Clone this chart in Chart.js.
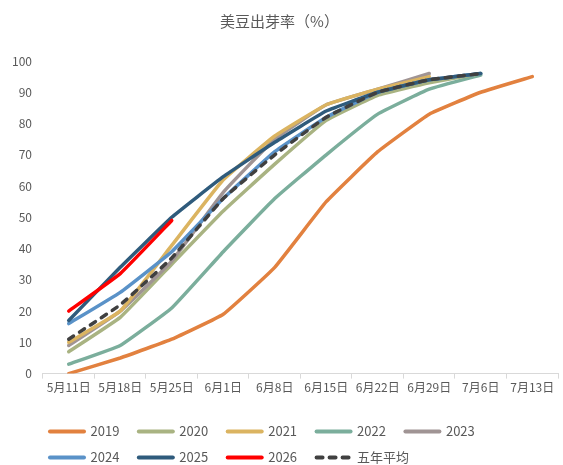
<!DOCTYPE html>
<html>
<head>
<meta charset="utf-8">
<script src="https://cdn.jsdelivr.net/npm/chart.js@4"></script>
<style>
    html, body { margin: 0; padding: 0; background: #fff; }
    #wrap { width: 563px; height: 465px; }
</style>
</head>
<body>
<div id="wrap"><canvas id="chart"></canvas></div>
<script>
const dates = ['5月11日', '5月18日', '5月25日', '6月1日', '6月8日', '6月15日', '6月22日', '6月29日', '7月6日', '7月13日'];
const yTicks = [0, 10, 20, 30, 40, 50, 60, 70, 80, 90, 100];

const y2019 = [0, 5, 11, 19, 34, 55, 71, 83, 90, 95];
const y2020 = [7, 18, 35, 52, 67, 81, 89, 93, 96, null];
const y2021 = [10, 20, 41, 62, 76, 86, 91, 95, null, null];
const y2022 = [3, 9, 21, 39, 56, 70, 83, 91, 95.5, null];
const y2023 = [9, 20, 36, 58, 75, 86, 91, 96, null, null];
const y2024 = [16, 26, 39, 56, 71, 82, 90, 94, 96, null];
const y2025 = [17, 34, 50, 63, 74, 84, 90, 94, 96, null];
const y2026 = [20, 32, 49, null, null, null, null, null, null, null];
const avg5 = [11, 22, 37, 56, 70, 82, 90, 94, 96, null];

const fontFamily = '"Noto Sans CJK SC", "Noto Sans", sans-serif';

window.addEventListener('load', () => {
    buildChart();
});

function line(label, data, color, order, dash) {
    return {
        label: label,
        data: data,
        borderColor: color,
        backgroundColor: color,
        borderWidth: 3.5,
        borderCapStyle: 'round',
        borderDash: dash || [],
        pointRadius: 0,
        pointHoverRadius: 0,
        tension: 0.1,
        spanGaps: false,
        order: order
    };
}

// nudge the legend to where the original sits
const legendShift = {
    id: 'legendShift',
    afterLayout(chart) {
        const lg = chart.legend;
        lg.left -= 6;
        lg.right -= 6;
        lg.top += 9;
        lg.bottom += 9;
    }
};

function buildChart() {
    const ctx = document.getElementById('chart').getContext('2d');

    new Chart(ctx, {
        type: 'line',
        data: {
            labels: dates,
            datasets: [
                line('2019', y2019, '#E2813F', 8),
                line('2020', y2020, '#A9B382', 6),
                line('2021', y2021, '#DBB461', 4),
                line('2022', y2022, '#7BAE9C', 7),
                line('2023', y2023, '#A09494', 5),
                line('2024', y2024, '#5A92C8', 3),
                line('2025', y2025, '#2F5B7C', 2),
                line('2026', y2026, '#FF0000', 1),
                line('五年平均', avg5, '#404040', 0, [6, 7])
            ]
        },
        plugins: [legendShift],
        options: {
            responsive: true,
            maintainAspectRatio: false,
            animation: false,
            layout: {
                padding: { left: 1, right: 5, top: 0, bottom: 0 }
            },
            plugins: {
                title: {
                    display: true,
                    text: '美豆出芽率（%）',
                    color: '#595959',
                    font: { family: fontFamily, size: 15, weight: 'normal' },
                    padding: { top: 12, bottom: 31 }
                },
                legend: {
                    position: 'bottom',
                    align: 'start',
                    fullSize: false,
                    labels: {
                        usePointStyle: true,
                        pointStyle: 'line',
                        pointStyleWidth: 34,
                        color: '#595959',
                        font: { family: fontFamily, size: 13 },
                        padding: 13,
                        sort: (a, b) => a.datasetIndex - b.datasetIndex,
                        generateLabels: chart => {
                            const items = Chart.defaults.plugins.legend.labels.generateLabels(chart);
                            items.forEach(it => {
                                const ds = chart.data.datasets[it.datasetIndex];
                                it.lineDash = ds.borderDash.length ? [6, 7] : [];
                                it.lineCap = 'round';
                                it.lineWidth = 4;
                                it.text = it.text + '\u2002';
                            });
                            return items;
                        }
                    }
                },
                tooltip: { enabled: false }
            },
            scales: {
                x: {
                    offset: true,
                    grid: {
                        offset: true,
                        drawOnChartArea: false,
                        drawTicks: true,
                        tickLength: 5,
                        color: '#D9D9D9'
                    },
                    border: { color: '#D9D9D9', width: 1 },
                    ticks: {
                        color: '#595959',
                        font: { family: fontFamily, size: 12 },
                        maxRotation: 0,
                        autoSkip: false,
                        padding: 2
                    },
                    afterFit: axis => {
                        axis.height += 6;
                    }
                },
                y: {
                    min: 0,
                    max: 100,
                    afterBuildTicks: axis => {
                        axis.ticks = yTicks.map(v => ({ value: v }));
                    },
                    grid: { display: false, drawTicks: false },
                    border: { display: false },
                    ticks: {
                        color: '#595959',
                        font: { family: fontFamily, size: 12 },
                        padding: 11
                    }
                }
            }
        }
    });
}
</script>
</body>
</html>
